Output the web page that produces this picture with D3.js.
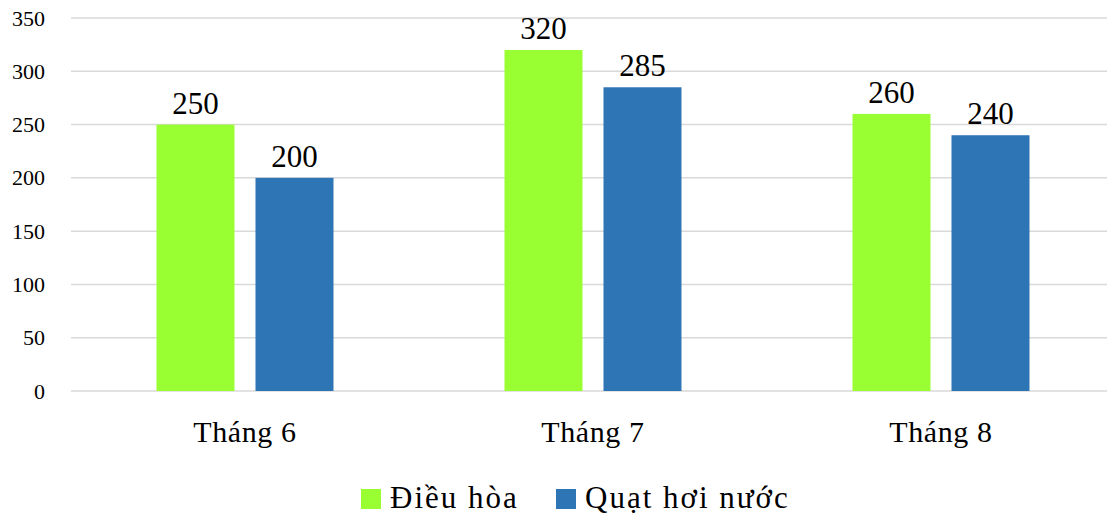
<!DOCTYPE html>
<html>
<head>
<meta charset="utf-8">
<script src="https://cdn.jsdelivr.net/npm/d3@7"></script>
<style>
  body { margin: 0; background: #fff; }
  svg { display: block; }
  svg text { font-family: "Liberation Serif", "Times New Roman", serif; }
</style>
</head>
<body>
<div class="chart"></div>
<script>
// chart data
const categories = ["Tháng 6", "Tháng 7", "Tháng 8"];
const seriesNames = ["Điều hòa", "Quạt hơi nước"];
const dieuHoa = [250, 320, 260];
const quatHoiNuoc = [200, 285, 240];
const yTicks = [0, 50, 100, 150, 200, 250, 300, 350];

const colors = ["#99ff33", "#2e75b6"];
const fontFam = "Liberation Serif";

const W = 1107, H = 514;
const svg = d3.select(".chart").append("svg")
  .attr("width", W).attr("height", H);

// scales
const x = d3.scaleBand().domain(categories).range([71, 1115]);
const xs = d3.scaleBand().domain(seriesNames)
  .range([0, x.bandwidth()]).paddingInner(0.212).paddingOuter(0.864);
const y = d3.scaleLinear().domain([0, 350]).range([391, 18]);

// gridlines
svg.append("g")
  .selectAll("line")
  .data(yTicks)
  .enter().append("line")
  .attr("x1", 71).attr("x2", W)
  .attr("y1", (d) => y(d)).attr("y2", (d) => y(d))
  .attr("stroke", "#d9d9d9").attr("stroke-width", 1.5);

// y axis labels
const yAxis = svg.append("g")
  .attr("transform", "translate(45,0)")
  .call(d3.axisLeft(y).tickValues(yTicks).tickSize(0).tickPadding(0));
yAxis.select(".domain").remove();
yAxis.attr("font-family", null);
yAxis.selectAll("text")
  .style("font-family", fontFam).attr("font-size", 22).attr("fill", "#000");

// x axis labels
const xAxis = svg.append("g")
  .attr("transform", "translate(0,391)")
  .call(d3.axisBottom(x).tickSize(0).tickPadding(30));
xAxis.select(".domain").remove();
xAxis.attr("font-family", null);
xAxis.selectAll("text")
  .style("font-family", fontFam).attr("font-size", 30)
  .attr("letter-spacing", 0.6).attr("fill", "#000");

// bars
const rows = categories.map((c, i) => ({ cat: c, vals: [dieuHoa[i], quatHoiNuoc[i]] }));
const groups = svg.selectAll(".grp").data(rows).enter().append("g")
  .attr("class", "grp")
  .attr("transform", (d) => `translate(${x(d.cat)},0)`);

groups.selectAll("rect")
  .data((d) => d.vals.map((v, j) => ({ name: seriesNames[j], v, j })))
  .enter().append("rect")
  .attr("x", (d) => xs(d.name))
  .attr("width", xs.bandwidth())
  .attr("y", (d) => y(d.v))
  .attr("height", (d) => y(0) - y(d.v))
  .attr("fill", (d) => colors[d.j]);

// value labels
groups.selectAll("text.val")
  .data((d) => d.vals.map((v, j) => ({ name: seriesNames[j], v })))
  .enter().append("text")
  .attr("class", "val")
  .attr("x", (d) => xs(d.name) + xs.bandwidth() / 2)
  .attr("y", (d) => y(d.v) - 11)
  .attr("text-anchor", "middle")
  .style("font-family", fontFam).attr("font-size", 31)
  .text((d) => d.v);

// legend
const legendPos = [361, 556];
const legend = svg.append("g");
seriesNames.forEach((name, i) => {
  legend.append("rect")
    .attr("x", legendPos[i]).attr("y", 489)
    .attr("width", 20).attr("height", 20)
    .attr("fill", colors[i]);
  legend.append("text")
    .attr("x", legendPos[i] + 29).attr("y", 508)
    .style("font-family", fontFam).attr("font-size", 31)
    .attr("letter-spacing", 2)
    .text(name);
});
</script>
</body>
</html>
